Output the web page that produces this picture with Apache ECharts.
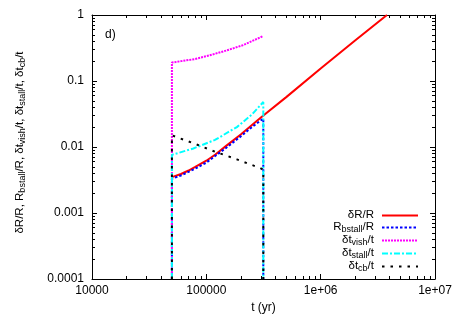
<!DOCTYPE html>
<html><head><meta charset="utf-8">
<script src="https://cdn.jsdelivr.net/npm/echarts@6/dist/echarts.min.js"></script>
<style>html,body{margin:0;padding:0;background:#fff}#c{width:458px;height:320px}</style>
</head><body><div id="c"></div>
<script>
// ---- data ----
const xTickLabels = ['10000', '100000', '1e+06', '1e+07'];
const yTickLabels = ['0.0001', '0.001', '0.01', '0.1', '1'];

const seriesNames = ['δR/R', 'Rbstall/R', 'δtvish/t', 'δtstall/t', 'δtcb/t'];
const legendRich = [
  '{n|δR/R}',
  '{n|R}{s|bstall}{n|/R}',
  '{n|δt}{s|vish}{n|/t}',
  '{n|δt}{s|stall}{n|/t}',
  '{n|δt}{s|cb}{n|/t}'
];

// δR/R
const tDR = [5e4, 6e4, 7e4, 8e4, 1e5, 1.2e5, 1.5e5, 2e5, 3e5, 5e5, 1e6, 2e6, 3.8e6];
const vDR = [0.0035, 0.0039, 0.0044, 0.005, 0.0062, 0.0077, 0.0105, 0.0155, 0.028, 0.057, 0.155, 0.41, 1.0];
// Rbstall/R
const tRB = [5e4, 5e4, 6e4, 8e4, 1e5, 1.5e5, 2e5, 2.5e5, 3.15e5, 3.15e5];
const vRB = [1e-4, 0.0033, 0.0037, 0.0047, 0.0058, 0.0098, 0.0145, 0.02, 0.027, 1e-4];
// δt_vish/t
const tVI = [5e4, 5e4, 6e4, 8e4, 1.07e5, 1.5e5, 2.1e5, 3.15e5];
const vVI = [1e-4, 0.19, 0.2, 0.215, 0.245, 0.29, 0.35, 0.48];
// δt_stall/t
const tST = [5e4, 5e4, 7.7e4, 1.19e5, 1.85e5, 2.5e5, 3.15e5, 3.15e5];
const vST = [1e-4, 0.0076, 0.0095, 0.0128, 0.02, 0.031, 0.048, 1e-4];
// δt_cb/t
const tCB = [5e4, 5e4, 7.7e4, 1.19e5, 1.85e5, 2.95e5, 3.15e5, 3.15e5];
const vCB = [1e-4, 0.015, 0.0114, 0.0085, 0.0065, 0.0048, 0.0045, 1e-4];

// ---- chart ----
const FONT = "'Liberation Sans', Arial, sans-serif";
const zip = (a, b) => a.map((v, i) => [v, b[i]]);
const legRich = {
  n: { fontSize: 11.5, fontFamily: FONT, color: '#000', lineHeight: 13, verticalAlign: 'top' },
  s: { fontSize: 9, fontFamily: FONT, color: '#000', lineHeight: 2, verticalAlign: 'bottom' }
};
const yRich = {
  n: { fontSize: 11.5, fontFamily: FONT, color: '#000', lineHeight: 13, verticalAlign: 'top' },
  s: { fontSize: 9, fontFamily: FONT, color: '#000', lineHeight: 2, verticalAlign: 'bottom' }
};
const axisLine = { show: true, onZero: false, lineStyle: { color: '#000', width: 1 } };
function logAxis(pos, mn, mx, labels, margin) {
  return {
    type: 'log', logBase: 10, min: mn, max: mx, position: pos,
    axisLine, splitLine: { show: false },
    axisTick: { show: true, inside: true, length: 5, lineStyle: { color: '#000' } },
    axisLabel: labels ? {
      show: true, fontSize: 12, fontFamily: FONT, color: '#000', margin,
      formatter: v => labels[Math.round(Math.log10(v) - Math.log10(mn))]
    } : { show: false }
  };
}
// minor tick axes: a linear axis over the decade exponents, shifted by log10(k),
// so that its integer ticks fall on k*10^n
function minorAxes(pos, lo, hi) {
  const out = [];
  for (let k = 2; k <= 9; k++) {
    const c = Math.log10(k);
    out.push({
      type: 'value', min: lo - c, max: hi - c, position: pos,
      minInterval: 1, maxInterval: 1, splitNumber: hi - lo,
      axisLine: { show: false, onZero: false }, splitLine: { show: false }, axisLabel: { show: false },
      axisTick: { show: true, inside: true, length: 3, lineStyle: { color: '#000' } }
    });
  }
  return out;
}

const xA = logAxis('bottom', 1e4, 1e7, xTickLabels, 6);
xA.name = 't (yr)'; xA.nameLocation = 'middle'; xA.nameGap = 19;
xA.nameTextStyle = { fontSize: 12, fontFamily: FONT, color: '#000' };
const yA = logAxis('left', 1e-4, 1, yTickLabels, 8);
yA.name = '{n|δR/R, R}{s|bstall}{n|/R, δt}{s|vish}{n|/t, δt}{s|stall}{n|/t, δt}{s|cb}{n|/t}';
yA.nameLocation = 'middle'; yA.nameGap = 65; yA.nameRotate = 90;
yA.nameTextStyle = { rich: yRich, padding: [0, 0, 0, 9] };

const styles = [
  { color: '#ff0000', type: 'solid', width: 2 },
  { color: '#0000ff', type: [2.5, 2], width: 2 },
  { color: '#ff00ff', type: [2, 1], width: 2 },
  { color: '#00ffff', type: [6, 2, 2, 2], width: 2 },
  { color: '#000000', type: [2.5, 6], width: 2 }
];
const dataSets = [zip(tDR, vDR), zip(tRB, vRB), zip(tVI, vVI), zip(tST, vST), zip(tCB, vCB)];

const option = {
  animation: false,
  backgroundColor: '#fff',
  grid: { left: 92, right: 23, top: 15, bottom: 41, containLabel: false },
  xAxis: [xA, logAxis('top', 1e4, 1e7, null)].concat(minorAxes('bottom', 4, 7), minorAxes('top', 4, 7)),
  yAxis: [yA, logAxis('right', 1e-4, 1, null)].concat(minorAxes('left', -4, 0), minorAxes('right', -4, 0)),
  legend: {
    orient: 'vertical', right: 39, top: 209, align: 'right', padding: 0,
    itemWidth: 36, itemHeight: 10, itemGap: 0,
    data: seriesNames,
    itemStyle: { opacity: 0 },
    formatter: name => legendRich[seriesNames.indexOf(name)],
    textStyle: { rich: legRich, padding: [0, 3, 0, 0] }
  },
  graphic: [{ type: 'text', left: 105, top: 29, style: { text: 'd)', font: '12px ' + FONT, fill: '#000' } }],
  series: dataSets.map((d, i) => ({
    name: seriesNames[i], type: 'line', data: d, symbol: 'none', showSymbol: false,
    lineStyle: styles[i], itemStyle: { color: styles[i].color }, clip: true, z: 2 + i
  }))
};
const chart = echarts.init(document.getElementById('c'), null, { renderer: 'canvas' });
chart.setOption(option);
</script></body></html>
